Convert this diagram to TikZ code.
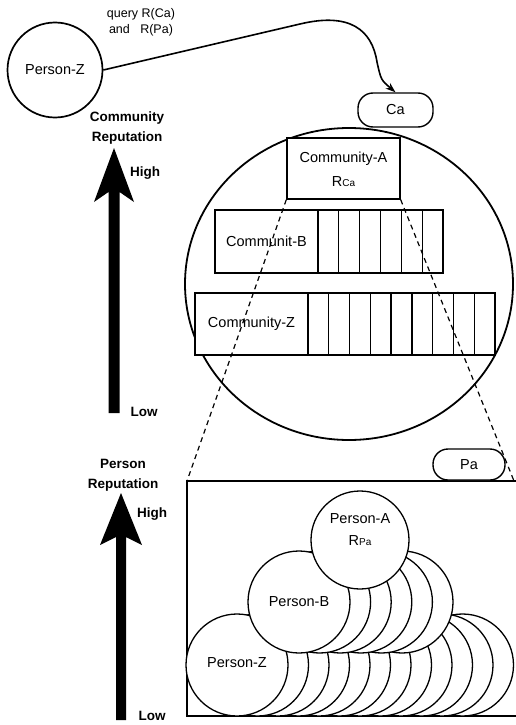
\documentclass[tikz,border=0pt]{standalone}
\usepackage{fontspec}
\setmainfont{Liberation Sans}
\usetikzlibrary{arrows.meta,calc}
\begin{document}
\begin{tikzpicture}[x=1pt,y=-1pt,
  lbl/.style={font=\fontsize{14.5}{24}\selectfont, inner sep=0pt, align=center},
  side/.style={font=\bfseries\fontsize{13.5}{20}\selectfont, inner sep=0pt, align=center},
  boxn/.style={draw, fill=white, line width=1.4pt, rectangle, inner sep=0pt},
  cellline/.style={line width=1.3pt},
  pill/.style={draw, fill=white, line width=1.4pt, rounded corners=15pt, inner sep=0pt},
  pc/.style={draw, fill=white, circle, inner sep=0pt, minimum size=102pt, line width=1.3pt,
             font=\fontsize{14.5}{17}\selectfont},
  conn/.style={line width=1.6pt, -{Stealth[length=10pt,width=7pt]}},
  zoomline/.style={line width=1.2pt, dash pattern=on 5pt off 4pt}
]
\useasboundingbox (0,0) rectangle (515,725);
\fill[white] (0,0) rectangle (515,725);

% ---- top: querying person
\node[draw, circle, line width=1.7pt, minimum size=95pt, inner sep=0pt,
      font=\fontsize{14.5}{17}\selectfont] (pz) at (55,70) {Person-Z};
\node[inner sep=0pt, align=center, font=\fontsize{12.5}{16}\selectfont] (query) at (141,22)
  {query R(Ca)\\and\ \ \ R(Pa)};

% ---- community circle
\draw[line width=1.8pt] (349,284) ellipse [x radius=164, y radius=156];
\node[pill, minimum width=75pt, minimum height=34pt, font=\fontsize{14.5}{17}\selectfont] (ca) at (395.5,110) {Ca};

\node[boxn, minimum width=113pt, minimum height=61pt] (cA) at (343.5,168.5) {};
\node[lbl] (cAt) at (343.5,169) {Community-A\\R{\fontsize{10}{10}\selectfont Ca}};

\draw[boxn] (215,210) rectangle (443,273);
\node[inner sep=0pt, font=\fontsize{14.5}{17}\selectfont] (cB) at (266.5,241.5) {Communit-B};
\foreach \i in {0,...,5} \draw[cellline] (318+\i*20.83,210) -- ++(0,63);

\draw[boxn] (195,293) rectangle (495,355);
\node[inner sep=0pt, font=\fontsize{14.5}{17}\selectfont] (cZ) at (251.5,324) {Community-Z};
\foreach \i in {0,...,8} \draw[cellline] (308+\i*20.78,293) -- ++(0,62);

% ---- query connector
\draw[conn] (pz.east) -- (300,24) .. controls (350,12) and (372,30) .. (377,62)
  .. controls (381,80) .. (ca.north);

% ---- person panel
\coordinate (rtl) at (187,481);
\coordinate (rtr) at (514,481);
\coordinate (rbl) at (187,716);
\draw[line width=1.6pt] (516,481) -- (rtl) -- (rbl) -- (516,716);

\draw[zoomline] (cA.south west) -- (rtl);
\draw[zoomline] (cA.south east) -- (rtr);

\node[pill, minimum width=72pt, minimum height=31pt, font=\fontsize{14.5}{17}\selectfont] (pa) at (469,464.5) {Pa};

\foreach \k in {11,10,...,1} \node[pc] (z\k) at (237+20.5*\k,665) {};
\node[pc] (pZ) at (237,665) {\raisebox{5pt}{Person-Z}};
\foreach \k in {5,4,...,1} \node[pc] (b\k) at (299+20.6*\k,602) {};
\node[pc] (pB) at (299,602) {Person-B};
\node[pc, minimum size=98pt] (pA) at (360,540) {};
\node[lbl, font=\fontsize{14.5}{22}\selectfont] (pAt) at (360,530) {Person-A\\R{\fontsize{10}{10}\selectfont Pa}};

% ---- reputation axes
\fill (114,148) -- (134,202) -- (119.5,192) -- (119.5,413) -- (108.5,413) -- (108.5,192) -- (94,202) -- cycle;
\node[side] (crep) at (127,128) {Community\\Reputation};
\node[side] (chigh) at (145,173) {High};
\node[side] (clow) at (144,412) {Low};

\fill (121,493) -- (142,545) -- (126,537) -- (126,720) -- (116,720) -- (116,537) -- (100,545) -- cycle;
\node[side] (prep) at (123,475) {Person\\Reputation};
\node[side] (phigh) at (152,514) {High};
\node[side] (plow) at (152,716) {Low};
\end{tikzpicture}
\end{document}
